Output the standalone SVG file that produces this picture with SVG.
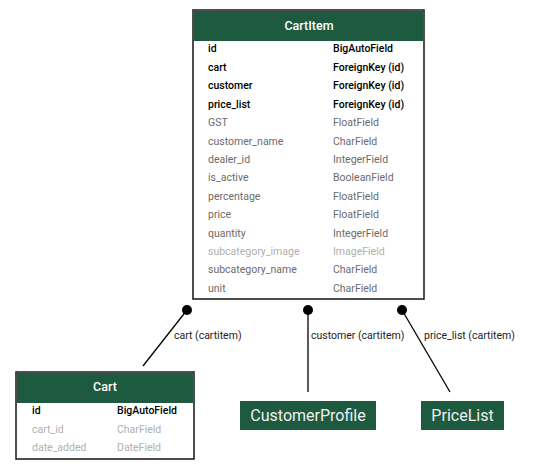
<svg xmlns="http://www.w3.org/2000/svg" width="536" height="471" viewBox="0 0 536 471">
<style>
text{font-family:Roboto,"Liberation Sans",sans-serif;}
.box{fill:#ffffff;stroke:#222;stroke-width:1.6;}
.hdr{fill:#1e5a40;}
.title{fill:#ffffff;font-size:12.5px;font-weight:500;text-anchor:middle;}
.pk{fill:#000;font-size:10.5px;font-weight:500;}
.f{fill:#6b6b6b;font-size:10.5px;}
.fl{fill:#b0b0b0;font-size:10.5px;}
.lbl{fill:#222;font-size:10.5px;}
.edge{stroke:#000;stroke-width:1.3;fill:none;}
.dot{fill:#000;}
.ext{fill:#1e5a40;}
.extt{fill:#f0f0f0;font-size:16px;text-anchor:middle;}
</style>
<rect width="536" height="471" fill="#ffffff"/>
<g id="connectors">
<line class="edge" x1="187" y1="310" x2="143" y2="366"/>
<circle class="dot" cx="187" cy="310" r="5"/>
<text class="lbl" x="174" y="339">cart (cartitem)</text>
<line class="edge" x1="308" y1="310" x2="308" y2="392"/>
<circle class="dot" cx="308" cy="310" r="5"/>
<text class="lbl" x="311" y="339">customer (cartitem)</text>
<line class="edge" x1="402" y1="310" x2="450" y2="392"/>
<circle class="dot" cx="402" cy="310" r="5"/>
<text class="lbl" x="424" y="339">price_list (cartitem)</text>
</g>
<g id="CartItem">
<rect class="box" x="193" y="10" width="231" height="289"/>
<rect class="hdr" x="194" y="11" width="229" height="30"/>
<text class="title" x="309" y="30">CartItem</text>
<text class="pk" x="208" y="52">id</text><text class="pk" x="333" y="52">BigAutoField</text>
<text class="pk" x="208" y="71">cart</text><text class="pk" x="333" y="71">ForeignKey (id)</text>
<text class="pk" x="208" y="89">customer</text><text class="pk" x="333" y="89">ForeignKey (id)</text>
<text class="pk" x="208" y="108">price_list</text><text class="pk" x="333" y="108">ForeignKey (id)</text>
<text class="f" x="208" y="126">GST</text><text class="f" x="333" y="126">FloatField</text>
<text class="f" x="208" y="145">customer_name</text><text class="f" x="333" y="145">CharField</text>
<text class="f" x="208" y="163">dealer_id</text><text class="f" x="333" y="163">IntegerField</text>
<text class="f" x="208" y="181">is_active</text><text class="f" x="333" y="181">BooleanField</text>
<text class="f" x="208" y="200">percentage</text><text class="f" x="333" y="200">FloatField</text>
<text class="f" x="208" y="218">price</text><text class="f" x="333" y="218">FloatField</text>
<text class="f" x="208" y="237">quantity</text><text class="f" x="333" y="237">IntegerField</text>
<text class="fl" x="208" y="255">subcategory_image</text><text class="fl" x="333" y="255">ImageField</text>
<text class="f" x="208" y="273">subcategory_name</text><text class="f" x="333" y="273">CharField</text>
<text class="f" x="208" y="292">unit</text><text class="f" x="333" y="292">CharField</text>
</g>
<g id="Cart">
<rect class="box" x="16" y="372" width="178" height="87"/>
<rect class="hdr" x="17" y="373" width="176" height="30"/>
<text class="title" x="105" y="391">Cart</text>
<text class="pk" x="32" y="414">id</text><text class="pk" x="117" y="414">BigAutoField</text>
<text class="fl" x="32" y="433">cart_id</text><text class="fl" x="117" y="433">CharField</text>
<text class="fl" x="32" y="451">date_added</text><text class="fl" x="117" y="451">DateField</text>
</g>
<g id="CustomerProfile">
<rect class="ext" x="240" y="401" width="136" height="29"/>
<text class="extt" x="308" y="421">CustomerProfile</text>
</g>
<g id="PriceList">
<rect class="ext" x="421" y="401" width="83" height="29"/>
<text class="extt" x="462.5" y="421">PriceList</text>
</g>
</svg>
